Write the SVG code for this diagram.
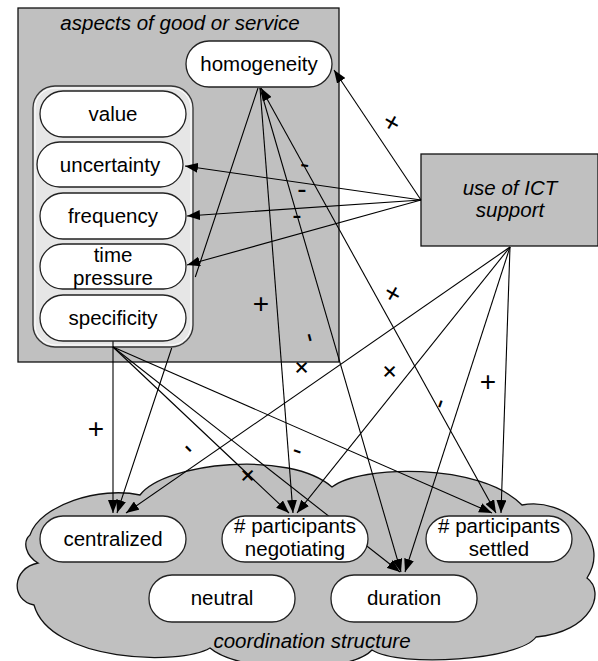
<svg xmlns="http://www.w3.org/2000/svg" width="598" height="661" viewBox="0 0 598 661">
<style>
text{font-family:"Liberation Sans",Arial,sans-serif;fill:#000}
.nt{font-size:20.5px;text-anchor:middle}
.it{font-size:20.5px;font-style:italic;text-anchor:middle}
.lb{font-size:28px;text-anchor:middle}
.node{fill:#fff;stroke:#222;stroke-width:1.3}
.grp{fill:#c0c0c0;stroke:#111;stroke-width:1.3}
.con{fill:none;stroke:#000;stroke-width:1.1;marker-end:url(#arr)}
</style>
<defs>
<marker id="arr" viewBox="0 0 13 10" refX="13" refY="5" markerWidth="13" markerHeight="10" markerUnits="userSpaceOnUse" orient="auto-start-reverse">
<path d="M0,0 L13,5 L0,10 z" fill="#000"/>
</marker>
</defs>

<g id="aspects">
<rect class="grp" x="18" y="8" width="321" height="354"/>
<text class="it" x="180" y="30">aspects of good or service</text>
</g>

<g id="ict">
<rect class="grp" x="421" y="154" width="177" height="92"/>
<text class="it" x="510" y="195">use of ICT</text>
<text class="it" x="510" y="217">support</text>
</g>

<g id="coordination">
<path class="grp" d="M30,535 C40,505 100,486 140,495 C165,462 290,450 332,487 C360,465 480,462 522,505 C565,496 612,540 587,578 C606,592 592,632 536,637 C520,660 400,668 372,650 C350,674 240,674 210,648 C180,666 50,662 34,605 C10,600 12,568 38,563 C26,556 22,542 30,535 Z"/>
<text class="it" x="312" y="648">coordination structure</text>
</g>

<g id="attributes">
<rect x="33" y="86" width="160" height="261" rx="22" fill="#e6e6e6" stroke="#333" stroke-width="1.3"/>
<rect x="35" y="88" width="156" height="257" rx="20" fill="none" stroke="#fff" stroke-width="1"/>
</g>

<g id="connectors">
<path class="con" d="M421,200 L334,70"/>
<path class="con" d="M421,200 L185,166"/>
<path class="con" d="M421,200 L187,216"/>
<path class="con" d="M421,200 L187,265"/>
<path class="con" d="M510,247 L126,513"/>
<path class="con" d="M510,247 L297,513"/>
<path class="con" d="M510,247 L405,572"/>
<path class="con" d="M510,247 L501,513"/>
<path class="con" d="M258,88 L195.3,277 M171.7,348 L117,513"/>
<path class="con" d="M260,88 L293,513"/>
<path class="con" d="M260,88 L401,572"/>
<path class="con" d="M261,88 L496,513" marker-start="url(#arr)"/>
<path class="con" d="M113,341 L113,513"/>
<path class="con" d="M113,347 L289,513"/>
<path class="con" d="M113,347 L400,572"/>
<path class="con" d="M113,347 L492,513"/>
</g>

<g id="homogeneity"><rect class="node" x="186" y="41" width="146" height="46" rx="23"/><text class="nt" x="259" y="71">homogeneity</text></g>
<g id="value"><rect class="node" x="40" y="91" width="146" height="46" rx="23"/><text class="nt" x="113" y="120.5">value</text></g>
<g id="uncertainty"><rect class="node" x="37" y="142" width="146" height="45" rx="22.5"/><text class="nt" x="110" y="171.5">uncertainty</text></g>
<g id="frequency"><rect class="node" x="40" y="193" width="146" height="46" rx="23"/><text class="nt" x="113" y="222.5">frequency</text></g>
<g id="time-pressure"><rect class="node" x="40" y="244" width="146" height="45" rx="22.5"/><text class="nt" x="113" y="262">time</text><text class="nt" x="113" y="285">pressure</text></g>
<g id="specificity"><rect class="node" x="40" y="295" width="146" height="46" rx="23"/><text class="nt" x="113" y="325">specificity</text></g>

<g id="centralized"><rect class="node" x="40" y="516" width="146" height="46" rx="23"/><text class="nt" x="113" y="545.5">centralized</text></g>
<g id="participants-negotiating"><rect class="node" x="222" y="516" width="146" height="46" rx="23"/><text class="nt" x="295" y="533">#&#160;participants</text><text class="nt" x="295" y="556">negotiating</text></g>
<g id="participants-settled"><rect class="node" x="426" y="516" width="146" height="46" rx="23"/><text class="nt" x="499" y="533">#&#160;participants</text><text class="nt" x="499" y="556">settled</text></g>
<g id="neutral"><rect class="node" x="149" y="575" width="146" height="47" rx="23"/><text class="nt" x="222" y="605">neutral</text></g>
<g id="duration"><rect class="node" x="331" y="575" width="146" height="47" rx="23"/><text class="nt" x="404" y="605">duration</text></g>

<g id="labels">
<text class="lb" transform="translate(392,122) rotate(30)" y="10">+</text>
<text class="lb" transform="translate(305,163) rotate(8)" y="10">-</text>
<text class="lb" transform="translate(302,188)" y="10">-</text>
<text class="lb" transform="translate(297,214)" y="10">-</text>
<text class="lb" x="261" y="313">+</text>
<text class="lb" transform="translate(312,337) rotate(75)" y="10">-</text>
<text class="lb" transform="translate(393,293) rotate(30)" y="10">+</text>
<text class="lb" transform="translate(302,367) rotate(45)" y="10">+</text>
<text class="lb" transform="translate(390,371) rotate(45)" y="10">+</text>
<text class="lb" x="488" y="391">+</text>
<text class="lb" transform="translate(438,403) rotate(-70)" y="10">-</text>
<text class="lb" x="96" y="438">+</text>
<text class="lb" transform="translate(190,447) rotate(45)" y="10">-</text>
<text class="lb" transform="translate(298,449) rotate(20)" y="10">-</text>
<text class="lb" transform="translate(248,475) rotate(45)" y="10">+</text>
</g>
</svg>
